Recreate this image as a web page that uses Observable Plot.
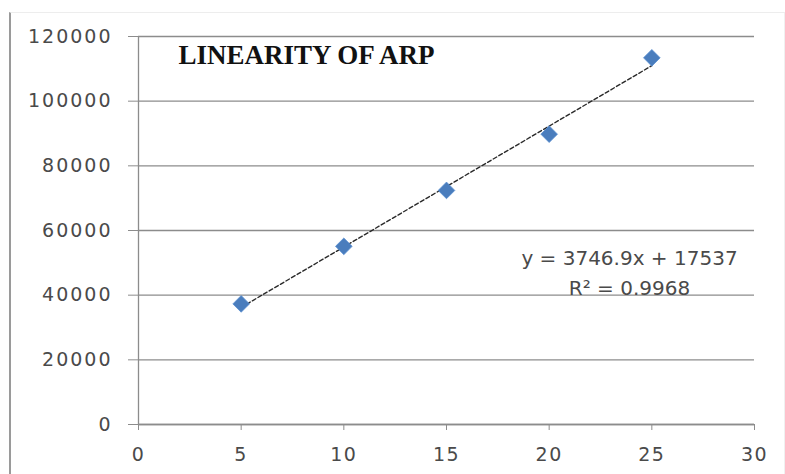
<!DOCTYPE html>
<html>
<head>
<meta charset="utf-8">
<script src="https://cdn.jsdelivr.net/npm/d3@7"></script>
<script src="https://cdn.jsdelivr.net/npm/@observablehq/plot@0.6"></script>
<style>
  html, body { margin: 0; padding: 0; background: #fff; }
  #wrap { position: relative; width: 785px; height: 474px; overflow: hidden; }
  #frame { position: absolute; left: 9px; top: 12px; width: 773px; height: 470px;
           border-left: 2px solid #9a9a9a; border-top: 1px solid #ededed; border-right: 1px solid #f0f0f0; }
  #chart { position: absolute; left: 0; top: 0; }
  g[aria-label="y-axis tick label"] text { letter-spacing: 2px; }
  g[aria-label="x-axis tick label"] text { letter-spacing: 1.5px; }
</style>
</head>
<body>
<div id="wrap"><div id="frame"></div><div id="chart"></div></div>
<script>
const concentration = [5, 10, 15, 20, 25];
const peakArea = [37300, 55100, 72400, 89800, 113400];
const xTicks = [0, 5, 10, 15, 20, 25, 30];
const yTicks = [0, 20000, 40000, 60000, 80000, 100000, 120000];
const titleText = "LINEARITY OF ARP";
const equationLines = ["y = 3746.9x + 17537", "R² = 0.9968"];

const data = concentration.map((x, i) => ({x, y: peakArea[i]}));

const chart = Plot.plot({
  width: 785,
  height: 474,
  marginLeft: 138,
  marginRight: 31,
  marginTop: 36,
  marginBottom: 50,
  style: {fontFamily: "DejaVu Sans", fontSize: "19px", background: "transparent", color: "#4a4a4a"},
  x: {domain: [0, 30]},
  y: {domain: [0, 120000]},
  marks: [
    Plot.gridY(yTicks, {stroke: "#8c8c8c", strokeOpacity: 1, strokeWidth: 1.3}),
    Plot.ruleX([0], {stroke: "#8c8c8c", strokeWidth: 1.3}),
    Plot.ruleY([0], {stroke: "#8c8c8c", strokeWidth: 1.3}),
    Plot.axisY(yTicks, {tickSize: 10, tickPadding: 16, stroke: "#8c8c8c", fill: "#4a4a4a", tickFormat: d => String(d), label: null}),
    Plot.axisX(xTicks, {tickSize: 6, tickPadding: 17, stroke: "#8c8c8c", fill: "#4a4a4a", tickFormat: d => String(d), label: null}),
    Plot.linearRegressionY(data, {x: "x", y: "y", ci: 0, stroke: "#2a2a2a", strokeWidth: 1.4, strokeDasharray: "4,2.5"}),
    Plot.dot(data, {x: "x", y: "y", symbol: "diamond2", r: 7.5, fill: "#4a7dbd", stroke: "#5b8fd0", strokeWidth: 0.8}),
    Plot.text([titleText], {frameAnchor: "top-left", dx: 40, dy: 19, text: d => d, textAnchor: "start", lineAnchor: "middle",
      fontFamily: "Liberation Serif", fontWeight: "bold", fontSize: 27, fill: "#111"}),
    Plot.text([equationLines.join("\n")], {frameAnchor: "top-right", dx: -125, dy: 234, text: d => d, textAnchor: "middle", lineAnchor: "middle",
      lineHeight: 1.5, fontFamily: "DejaVu Sans", fontSize: 20, fill: "#4a4a4a"})
  ]
});
document.getElementById("chart").appendChild(chart);
</script>
</body>
</html>
